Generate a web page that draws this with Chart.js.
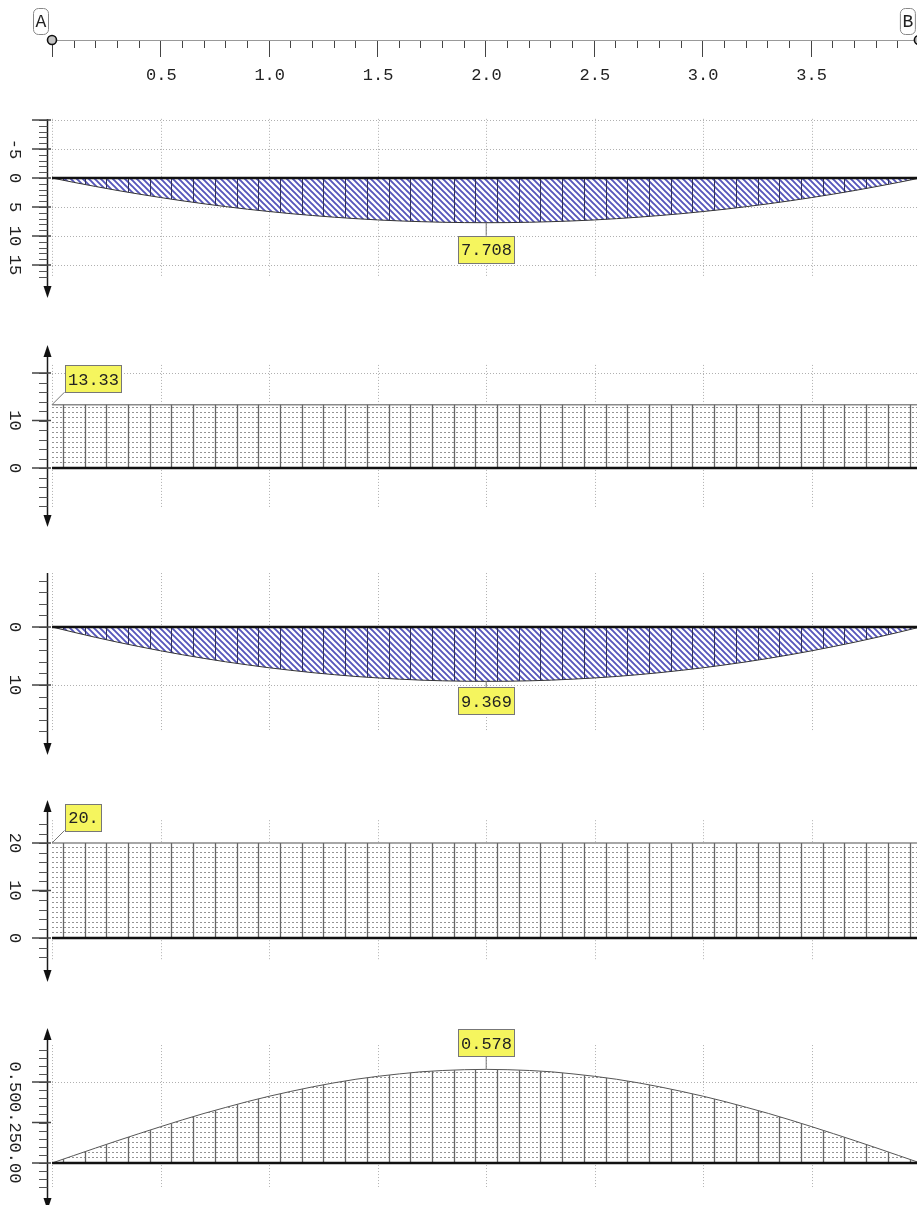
<!DOCTYPE html>
<html>
<head>
<meta charset="utf-8">
<script src="https://cdn.jsdelivr.net/npm/chart.js@4.4.1/dist/chart.umd.min.js"></script>
<style>
html, body { margin: 0; padding: 0; background: #fff; overflow: hidden; }
#wrap { position: relative; width: 917px; height: 1205px; overflow: hidden; }
#wrap canvas { position: absolute; left: 0; top: 0; }
</style>
</head>
<body>
<div id="wrap"></div>
<script>
// stations along the beam (m)
const stations = [0, 0.1, 0.2, 0.3, 0.4, 0.5, 0.6, 0.7, 0.8, 0.9, 1.0, 1.1, 1.2, 1.3, 1.4, 1.5, 1.6, 1.7, 1.8, 1.9, 2.0,
                  2.1, 2.2, 2.3, 2.4, 2.5, 2.6, 2.7, 2.8, 2.9, 3.0, 3.1, 3.2, 3.3, 3.4, 3.5, 3.6, 3.7, 3.8, 3.9, 4.0];
const moment1 = [0, 0.75, 1.46, 2.14, 2.77, 3.37, 3.93, 4.45, 4.93, 5.38, 5.78, 6.15, 6.47, 6.76, 7.01, 7.23, 7.40, 7.53, 7.63, 7.69, 7.708,
                 7.69, 7.63, 7.53, 7.40, 7.23, 7.01, 6.76, 6.47, 6.15, 5.78, 5.38, 4.93, 4.45, 3.93, 3.37, 2.77, 2.14, 1.46, 0.75, 0];
const moment2 = [0, 0.91, 1.78, 2.60, 3.37, 4.10, 4.78, 5.41, 6.00, 6.53, 7.03, 7.47, 7.87, 8.22, 8.53, 8.78, 8.99, 9.16, 9.28, 9.35, 9.369,
                 9.35, 9.28, 9.16, 8.99, 8.78, 8.53, 8.22, 7.87, 7.47, 7.03, 6.53, 6.00, 5.41, 4.78, 4.10, 3.37, 2.60, 1.78, 0.91, 0];
const deflection = [0, 0.046, 0.092, 0.137, 0.181, 0.224, 0.266, 0.306, 0.343, 0.379, 0.412, 0.442, 0.470, 0.495, 0.517, 0.535, 0.550, 0.563, 0.571, 0.576, 0.578,
                    0.576, 0.571, 0.563, 0.550, 0.535, 0.517, 0.495, 0.470, 0.442, 0.412, 0.379, 0.343, 0.306, 0.266, 0.224, 0.181, 0.137, 0.092, 0.046, 0];
const beamEnds = [0, 4];
const axial1 = [13.33, 13.33];
const axial2 = [20, 20];
const zeroLine = [0, 0];

const supportX = [0, 4];
const supportNames = ['A', 'B'];
const axisTickValues = [0.5, 1.0, 1.5, 2.0, 2.5, 3.0, 3.5];
const axisTickLabels = ['0.5', '1.0', '1.5', '2.0', '2.5', '3.0', '3.5'];
const peakLabels = ['7.708', '13.33', '9.369', '20.', '0.578'];

const yVals1 = [-5, 0, 5, 10, 15];
const yLabels1 = ['-5', '0', '5', '10', '15'];
const yVals2 = [0, 10];
const yLabels2 = ['0', '10'];
const yVals3 = [0, 10];
const yLabels3 = ['0', '10'];
const yVals4 = [0, 10, 20];
const yLabels4 = ['0', '10', '20'];
const yVals5 = [0, 0.25, 0.5];
const yLabels5 = ['0.00', '0.25', '0.50'];

const FONT = "17px 'Liberation Mono', 'DejaVu Sans Mono', monospace";
const CW = 925, CH = 1205;
const X0 = 52, PPX = 217.1;          // pixel of x=0, pixels per metre
const AXIS_X = 47.5;

function xy(xs, ys) {
    return xs.map((x, i) => ({ x: x, y: ys[i] }));
}

function hatchPattern() {
    const c = document.createElement('canvas');
    c.width = 6; c.height = 6;
    const g = c.getContext('2d');
    g.fillStyle = '#ffffff';
    g.fillRect(0, 0, 6, 6);
    g.strokeStyle = '#5656bc';
    g.lineWidth = 1.9;
    g.beginPath();
    g.moveTo(-1, -1); g.lineTo(7, 7);
    g.moveTo(-1, 5); g.lineTo(1, 7);
    g.moveTo(5, -1); g.lineTo(7, 1);
    g.stroke();
    return g.createPattern(c, 'repeat');
}

function dotPattern() {
    const c = document.createElement('canvas');
    c.width = 4; c.height = 5;
    const g = c.getContext('2d');
    g.fillStyle = '#ffffff';
    g.fillRect(0, 0, 4, 5);
    g.fillStyle = '#939393';
    g.fillRect(0, 2, 2, 1);
    return g.createPattern(c, 'repeat');
}

const panels = [
    { x: stations, y: moment1, zero: 178, ppu: 5.8, min: -10.2, max: 17.2, reverse: true, look: 'hatch',
      minor: [-10, 17, 1], major: [-10, -5, 0, 5, 10, 15], labVals: yVals1, labs: yLabels1, grid: [-10, -5, 5, 10, 15],
      axis: [119, 298], arrowUp: false, callout: { at: 'peak', dir: 'down', gap: 13 }, text: peakLabels[0] },
    { x: beamEnds, y: axial1, zero: 468, ppu: 4.75, min: -8.3, max: 21.7, reverse: false, look: 'dots',
      minor: [-8, 20, 2], major: [0, 10, 20], labVals: yVals2, labs: yLabels2, grid: [20],
      axis: [345, 527], arrowUp: true, callout: { at: 'start', dir: 'upright' }, text: peakLabels[1] },
    { x: stations, y: moment2, zero: 627, ppu: 5.8, min: -9.3, max: 18.1, reverse: true, look: 'hatch',
      minor: [-8, 18, 2], major: [0, 10], labVals: yVals3, labs: yLabels3, grid: [10],
      axis: [573, 755], arrowUp: false, callout: { at: 'peak', dir: 'down', gap: 6 }, text: peakLabels[2] },
    { x: beamEnds, y: axial2, zero: 938, ppu: 4.75, min: -4.6, max: 24.8, reverse: false, look: 'dots',
      minor: [-4, 24, 2], major: [0, 10, 20], labVals: yVals4, labs: yLabels4, grid: [],
      axis: [800, 982], arrowUp: true, callout: { at: 'start', dir: 'upright' }, text: peakLabels[3] },
    { x: stations, y: deflection, zero: 1163, ppu: 162, min: -0.148, max: 0.728, reverse: false, look: 'dots',
      minor: [-0.15, 0.70, 0.05], major: [0, 0.25, 0.5], labVals: yVals5, labs: yLabels5, grid: [0.5],
      axis: [1028, 1210], arrowUp: true, callout: { at: 'peak', dir: 'up', gap: 13 }, text: peakLabels[4] }
];

// decorative positions
const gridX = [0, 0.5, 1.0, 1.5, 2.0, 2.5, 3.0, 3.5];
const hatchX = [];
for (let k = 0; k < 40; k++) hatchX.push(0.05 + 0.1 * k);

function arrow(ctx, x, y, dir) {
    ctx.beginPath();
    ctx.moveTo(x, y);
    ctx.lineTo(x - 4, y - dir * 12);
    ctx.lineTo(x + 4, y - dir * 12);
    ctx.closePath();
    ctx.fill();
}

function drawGrid(chart, p) {
    const ctx = chart.ctx, ca = chart.chartArea, xs = chart.scales.x, ys = chart.scales.y;
    ctx.save();
    ctx.strokeStyle = '#b0b0b0';
    ctx.lineWidth = 1;
    ctx.setLineDash([1, 2]);
    ctx.beginPath();
    gridX.forEach(v => {
        const px = Math.round(xs.getPixelForValue(v)) + 0.5;
        ctx.moveTo(px, ca.top); ctx.lineTo(px, ca.bottom);
    });
    p.grid.forEach(v => {
        const py = Math.round(ys.getPixelForValue(v)) + 0.5;
        ctx.moveTo(xs.getPixelForValue(0), py); ctx.lineTo(chart.width, py);
    });
    ctx.stroke();
    ctx.restore();
}

function drawHatch(chart, p) {
    const ctx = chart.ctx, xs = chart.scales.x, ys = chart.scales.y;
    const pts = chart.getDatasetMeta(1).data;
    const base = ys.getPixelForValue(0);
    ctx.save();
    ctx.beginPath();
    ctx.moveTo(pts[0].x, base);
    pts.forEach(pt => ctx.lineTo(pt.x, pt.y));
    ctx.lineTo(pts[pts.length - 1].x, base);
    ctx.closePath();
    ctx.clip();
    ctx.strokeStyle = p.look === 'hatch' ? '#33335c' : '#666';
    ctx.lineWidth = p.look === 'hatch' ? 1 : 1.3;
    ctx.beginPath();
    hatchX.forEach(v => {
        const px = Math.round(xs.getPixelForValue(v)) + 0.5;
        ctx.moveTo(px, 0); ctx.lineTo(px, chart.height);
    });
    ctx.stroke();
    ctx.restore();
}

function drawAxis(chart, p) {
    const ctx = chart.ctx, ys = chart.scales.y;
    ctx.save();
    ctx.strokeStyle = '#1a1a1a';
    ctx.lineWidth = 1.5;
    ctx.beginPath();
    ctx.moveTo(AXIS_X, p.axis[0] + (p.arrowUp ? 6 : 0));
    ctx.lineTo(AXIS_X, p.axis[1] - 6);
    ctx.stroke();
    ctx.fillStyle = '#111';
    arrow(ctx, AXIS_X, p.axis[1], 1);
    if (p.arrowUp) arrow(ctx, AXIS_X, p.axis[0], -1);

    ctx.strokeStyle = '#555';
    ctx.lineWidth = 1;
    ctx.beginPath();
    const n = Math.round((p.minor[1] - p.minor[0]) / p.minor[2]);
    for (let i = 0; i <= n; i++) {
        const v = p.minor[0] + i * p.minor[2];
        const py = Math.round(ys.getPixelForValue(v)) + 0.5;
        ctx.moveTo(39, py); ctx.lineTo(AXIS_X, py);
    }
    ctx.stroke();
    ctx.lineWidth = 1.5;
    ctx.strokeStyle = '#444';
    ctx.beginPath();
    p.major.forEach(v => {
        const py = ys.getPixelForValue(v);
        ctx.moveTo(32, py); ctx.lineTo(51, py);
    });
    ctx.stroke();

    ctx.fillStyle = '#222';
    ctx.font = FONT;
    ctx.textAlign = 'center';
    ctx.textBaseline = 'middle';
    p.labVals.forEach((v, i) => {
        const py = ys.getPixelForValue(v);
        ctx.save();
        ctx.translate(15, py);
        ctx.rotate(Math.PI / 2);
        ctx.fillText(p.labs[i], 0, 1);
        ctx.restore();
    });
    ctx.restore();
}

function drawCallout(chart, p) {
    const ctx = chart.ctx;
    const pts = chart.getDatasetMeta(1).data;
    let idx = 0;
    if (p.callout.at === 'peak') {
        p.y.forEach((v, i) => { if (Math.abs(v) > Math.abs(p.y[idx])) idx = i; });
    }
    const pt = pts[idx];
    ctx.save();
    ctx.font = FONT;
    const w = ctx.measureText(p.text).width + 5, h = 27;
    let bx, by, lx, ly;
    if (p.callout.dir === 'down') {
        bx = pt.x - w / 2; by = pt.y + p.callout.gap; lx = pt.x; ly = by;
    } else if (p.callout.dir === 'up') {
        bx = pt.x - w / 2; by = pt.y - p.callout.gap - h; lx = pt.x; ly = by + h;
    } else {
        bx = pt.x + 12.5; by = pt.y - 12.5 - h; lx = bx; ly = by + h;
    }
    ctx.strokeStyle = '#777';
    ctx.lineWidth = 1;
    ctx.beginPath();
    ctx.moveTo(pt.x, pt.y); ctx.lineTo(lx, ly);
    ctx.stroke();
    ctx.fillStyle = '#f5f55e';
    ctx.fillRect(Math.round(bx) + 0.5, Math.round(by) + 0.5, Math.round(w), h);
    ctx.strokeStyle = '#777';
    ctx.strokeRect(Math.round(bx) + 0.5, Math.round(by) + 0.5, Math.round(w), h);
    ctx.fillStyle = '#222';
    ctx.textAlign = 'center';
    ctx.textBaseline = 'middle';
    ctx.fillText(p.text, Math.round(bx) + 0.5 + Math.round(w) / 2, by + h / 2 + 1.5);
    ctx.restore();
}

function makeCanvas() {
    const c = document.createElement('canvas');
    c.width = CW; c.height = CH;
    c.style.width = CW + 'px'; c.style.height = CH + 'px';
    document.getElementById('wrap').appendChild(c);
    return c.getContext('2d');
}

function construirPainel(p) {
    const top = p.reverse ? p.zero + p.min * p.ppu : p.zero - p.max * p.ppu;
    const bottom = p.reverse ? p.zero + p.max * p.ppu : p.zero - p.min * p.ppu;
    const fillStyle = p.look === 'hatch' ? hatchPattern() : dotPattern();
    const lineColor = p.look === 'hatch' ? '#333' : (p.x.length === 2 ? '#8a8a8a' : '#555');

    new Chart(makeCanvas(), {
        type: 'line',
        data: {
            datasets: [{
                data: xy(beamEnds, zeroLine),
                borderColor: '#111',
                borderWidth: 2.5,
                pointRadius: 0,
                fill: false,
                clip: false
            }, {
                data: xy(p.x, p.y),
                borderColor: lineColor,
                borderWidth: p.x.length === 2 ? 1.5 : 1,
                backgroundColor: fillStyle,
                fill: 'origin',
                pointRadius: 0,
                tension: 0,
                clip: false
            }]
        },
        options: {
            responsive: false,
            animation: false,
            events: [],
            layout: { padding: { left: X0, right: CW - (X0 + 4 * PPX), top: top, bottom: CH - bottom } },
            plugins: { legend: { display: false }, tooltip: { enabled: false } },
            scales: {
                x: { type: 'linear', min: 0, max: 4, display: false },
                y: { type: 'linear', min: p.min, max: p.max, reverse: p.reverse, display: false }
            }
        },
        plugins: [{
            id: 'deco',
            beforeDatasetsDraw(chart) { drawGrid(chart, p); },
            afterDatasetDraw(chart, args) { if (args.index === 1) drawHatch(chart, p); },
            afterDraw(chart) { drawAxis(chart, p); drawCallout(chart, p); }
        }]
    });
}

function construirEixo() {
    new Chart(makeCanvas(), {
        type: 'scatter',
        data: {
            datasets: [{
                data: xy(supportX, [0, 0]),
                pointRadius: 4.5,
                pointBackgroundColor: '#c4c4c4',
                pointBorderColor: '#111',
                pointBorderWidth: 1.6,
                clip: false
            }]
        },
        options: {
            responsive: false,
            animation: false,
            events: [],
            layout: { padding: { left: X0, right: CW - (X0 + 4 * PPX), top: 30, bottom: CH - 50 } },
            plugins: { legend: { display: false }, tooltip: { enabled: false } },
            scales: {
                x: { type: 'linear', min: 0, max: 4, display: false },
                y: { type: 'linear', min: -1, max: 1, display: false }
            }
        },
        plugins: [{
            id: 'topAxis',
            beforeDatasetsDraw(chart) {
                const ctx = chart.ctx, xs = chart.scales.x;
                ctx.save();
                ctx.strokeStyle = '#999';
                ctx.lineWidth = 1;
                ctx.beginPath();
                ctx.moveTo(xs.getPixelForValue(0), 40.5);
                ctx.lineTo(chart.width, 40.5);
                ctx.stroke();
                ctx.strokeStyle = '#444';
                ctx.beginPath();
                for (let i = 0; i <= 40; i++) {
                    const px = Math.round(xs.getPixelForValue(i / 10)) + 0.5;
                    const len = i % 5 === 0 ? 16 : 7;
                    ctx.moveTo(px, 41); ctx.lineTo(px, 41 + len);
                }
                ctx.stroke();
                ctx.fillStyle = '#222';
                ctx.font = FONT;
                ctx.textAlign = 'center';
                ctx.textBaseline = 'middle';
                axisTickValues.forEach((v, i) => ctx.fillText(axisTickLabels[i], xs.getPixelForValue(v) + 1, 75));
                ctx.restore();
            },
            afterDraw(chart) {
                const ctx = chart.ctx, xs = chart.scales.x;
                ctx.save();
                ctx.font = "18px 'Liberation Mono', 'DejaVu Sans Mono', monospace";
                ctx.textAlign = 'center';
                ctx.textBaseline = 'middle';
                supportX.forEach((v, i) => {
                    const cx = xs.getPixelForValue(v) - 11;
                    ctx.strokeStyle = '#888';
                    ctx.lineWidth = 1;
                    ctx.beginPath();
                    ctx.roundRect(cx - 7.5, 8.5, 15, 26, 5);
                    ctx.stroke();
                    ctx.fillStyle = '#222';
                    ctx.fillText(supportNames[i], cx, 22);
                });
                ctx.restore();
            }
        }]
    });
}

construirEixo();
panels.forEach(construirPainel);
</script>
</body>
</html>
